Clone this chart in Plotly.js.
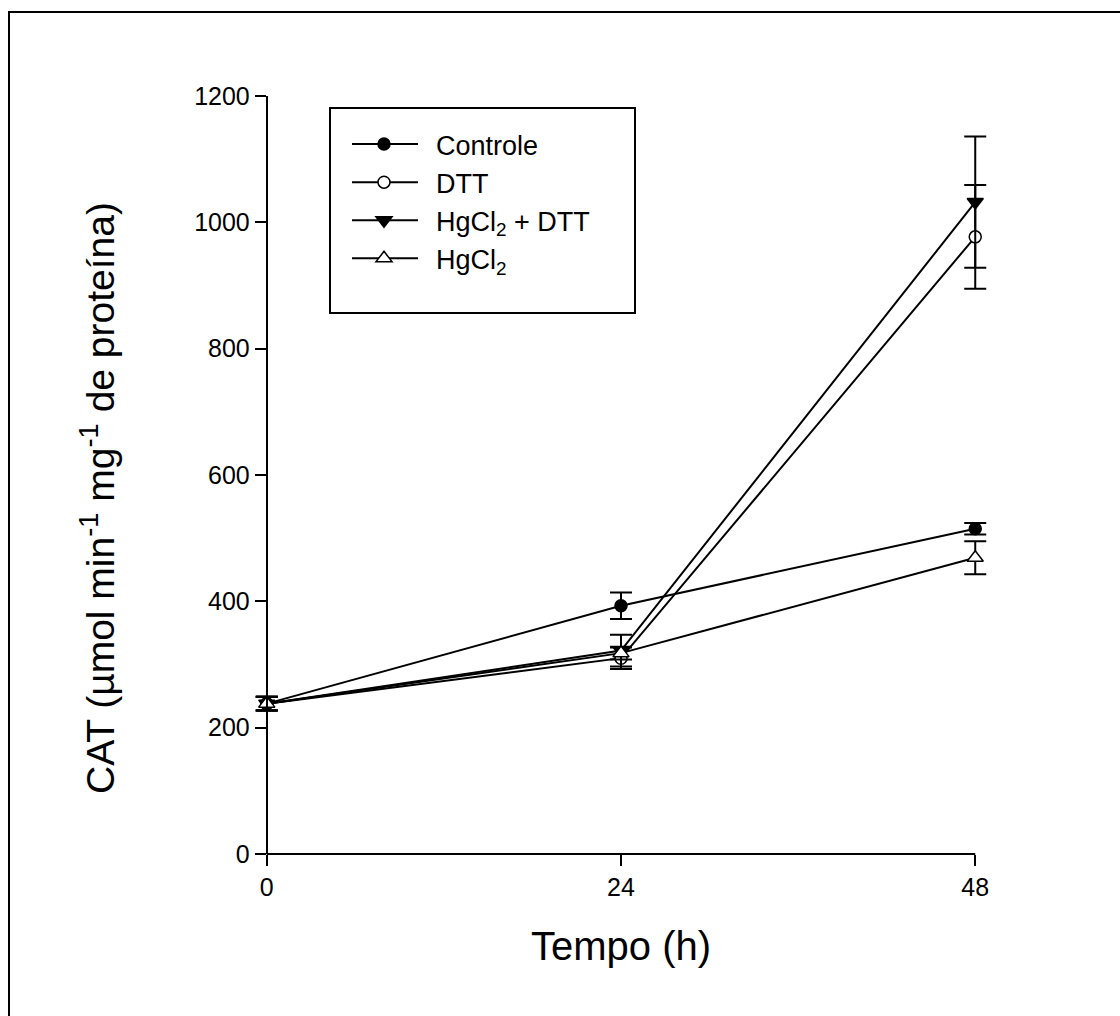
<!DOCTYPE html>
<html>
<head>
<meta charset="utf-8">
<script src="https://cdn.plot.ly/plotly-3.0.1.min.js"></script>
<style>
html,body{margin:0;padding:0;background:#fff;}
#frame{position:absolute;left:8px;top:11px;width:1200px;height:1100px;border-left:2px solid #000;border-top:2px solid #000;pointer-events:none;z-index:10;}
#chart{width:1120px;height:1016px;}
</style>
</head>
<body>
<div id="frame"></div>
<div id="chart"></div>
<script>
const hours = [0, 24, 48];
const controle = [238, 393, 515];
const controleErr = [11, 21, 9];
const dtt = [238, 310, 977];
const dttErr = [11, 17, 82];
const hgdtt = [238, 322, 1032];
const hgdttErr = [11, 25, 104];
const hg = [238, 318, 469];
const hgErr = [11, 10, 26];
const xTicks = [0, 24, 48];
const yTicks = [0, 200, 400, 600, 800, 1000, 1200];
const xTitle = 'Tempo (h)';
const yTitle = 'CAT (µmol min<sup>-1</sup> mg<sup>-1</sup> de proteína)';

const FONT = 'Liberation Sans, Arial, sans-serif';
const W = 1120, H = 1016, ML = 252, MR = 130, MT = 96, MB = 162;
const XR = [-1, 49];
const PW = W - ML - MR, PH = H - MT - MB;
const px2x = p => (p - ML) / PW;
const py2y = p => (H - MB - p) / PH;

function trace(name, y, err, symbol, fill) {
  return {
    x: hours, y: y, name: name, type: 'scatter', mode: 'lines+markers',
    cliponaxis: false,
    line: {color: '#000', width: 2},
    marker: {symbol: symbol, size: symbol.indexOf('triangle') === 0 ? 14 : 12,
             color: fill, line: {color: '#000', width: 1.5}},
    error_y: {type: 'data', array: err, visible: true, color: '#000', thickness: 2, width: 11}
  };
}

const data = [
  trace('Controle', controle, controleErr, 'circle', '#000'),
  trace('DTT', dtt, dttErr, 'circle', '#fff'),
  trace('HgCl<sub>2</sub> + DTT', hgdtt, hgdttErr, 'triangle-down', '#000'),
  trace('HgCl<sub>2</sub>', hg, hgErr, 'triangle-up', '#fff')
];

const layout = {
  width: W, height: H,
  margin: {l: ML, r: MR, t: MT, b: MB},
  paper_bgcolor: '#fff', plot_bgcolor: '#fff',
  font: {family: FONT, color: '#000', size: 25},
  showlegend: true,
  legend: {
    x: px2x(332), y: py2y(120), xanchor: 'left', yanchor: 'top',
    borderwidth: 0, bgcolor: 'rgba(0,0,0,0)',
    font: {family: FONT, size: 27, color: '#000'},
    itemwidth: 94, tracegroupgap: 0
  },
  shapes: [
    {type: 'line', xref: 'x', yref: 'paper', x0: xTicks[0], x1: xTicks[xTicks.length - 1], y0: 0, y1: 0,
     line: {color: '#000', width: 2}},
    {type: 'rect', xref: 'paper', yref: 'paper', x0: px2x(330), x1: px2x(635), y0: py2y(313), y1: py2y(108),
     line: {color: '#000', width: 2}, fillcolor: 'rgba(0,0,0,0)', layer: 'above'}
  ],
  annotations: [
    {text: yTitle, xref: 'paper', yref: 'paper', x: px2x(97), y: py2y(498),
     xanchor: 'center', yanchor: 'middle', textangle: -90, showarrow: false,
     font: {family: FONT, size: 39, color: '#000'}}
  ],
  xaxis: {
    range: XR, tickvals: xTicks, ticktext: xTicks.map(String),
    showline: false,
    ticks: 'outside', ticklen: 11, tickwidth: 2, tickcolor: '#000',
    showgrid: false, zeroline: false,
    tickfont: {family: FONT, size: 25},
    title: {text: xTitle, font: {family: FONT, size: 40}, standoff: 31},
    automargin: false
  },
  yaxis: {
    range: [0, 1200], tickvals: yTicks, ticktext: yTicks.map(String),
    anchor: 'free', position: (0 - XR[0]) / (XR[1] - XR[0]),
    showline: true, linecolor: '#000', linewidth: 2,
    ticks: 'outside', ticklen: 11, tickwidth: 2, tickcolor: '#000',
    showgrid: false, zeroline: false,
    tickfont: {family: FONT, size: 25},
    automargin: false
  }
};

Plotly.newPlot('chart', data, layout, {staticPlot: true, displayModeBar: false}).then(function (gd) {
  // lengthen legend line samples so the symbol sits at their middle
  gd.querySelectorAll('.legend .traces .legendlines path').forEach(function (p) {
    p.setAttribute('d', 'M20,0h66');
  });
});
</script>
</body>
</html>
